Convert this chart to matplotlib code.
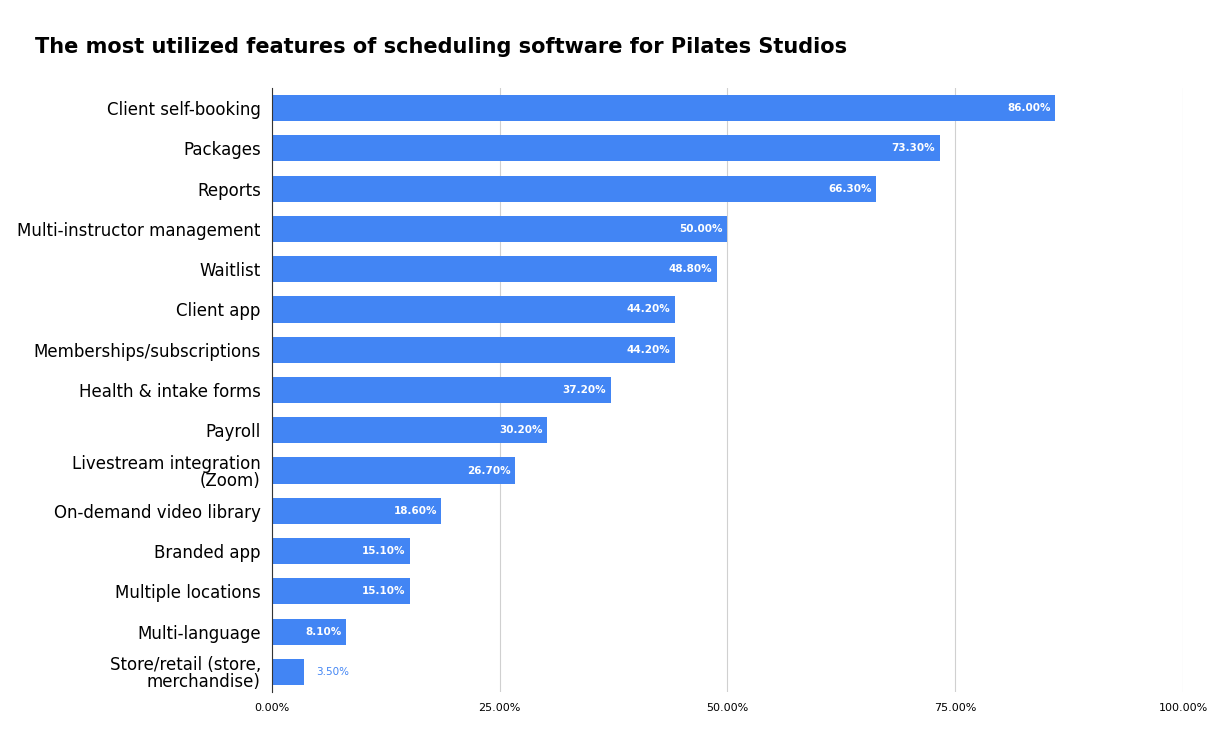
import matplotlib
matplotlib.use("Agg")
import matplotlib.pyplot as plt

categories = ["Client self-booking", "Packages", "Reports", "Multi-instructor management",
              "Waitlist", "Client app", "Memberships/subscriptions", "Health & intake forms",
              "Payroll", "Livestream integration\n(Zoom)", "On-demand video library",
              "Branded app", "Multiple locations", "Multi-language",
              "Store/retail (store,\nmerchandise)"]
values = [86.0, 73.3, 66.3, 50.0, 48.8, 44.2, 44.2, 37.2, 30.2, 26.7, 18.6, 15.1, 15.1, 8.1, 3.5]
ticks = [0, 25, 50, 75, 100]
tick_labels = ["0.00%", "25.00%", "50.00%", "75.00%", "100.00%"]

color = "#4285F4"
fig = plt.figure(figsize=(12.19, 7.54), dpi=100)
ax = fig.add_axes([0.2231, 0.0822, 0.7474, 0.8011])
y = list(range(len(categories)))
ax.barh(y, values, height=0.65, color=color, zorder=3)
ax.set_ylim(len(categories) - 0.5, -0.5)
ax.set_xlim(0, 100)
ax.set_yticks(y)
ax.set_yticklabels(categories, fontsize=12, linespacing=0.95)
ax.set_xticks(ticks)
ax.set_xticklabels(tick_labels, fontsize=8)
ax.tick_params(length=0, pad=8)
ax.tick_params(axis="y", pad=8)
ax.grid(axis="x", color="#d0d0d0", linewidth=0.8, zorder=0)
for s in ["top", "right", "bottom"]:
    ax.spines[s].set_visible(False)
ax.spines["left"].set_color("#333333")
ax.spines["left"].set_zorder(4)
for i, v in enumerate(values):
    if v > 5:
        ax.text(v - 0.5, i, f"{v:.2f}%", ha="right", va="center", color="white",
                fontsize=7.5, fontweight="bold", zorder=5)
    else:
        ax.text(v + 1.4, i, f"{v:.2f}%", ha="left", va="center", color=color,
                fontsize=7.5, zorder=5)
fig.text(35 / 1219, 1 - 47 / 754, "The most utilized features of scheduling software for Pilates Studios",
         fontsize=15, fontweight="bold", va="center", ha="left")
fig.savefig("out.png", dpi=100, facecolor="white")
